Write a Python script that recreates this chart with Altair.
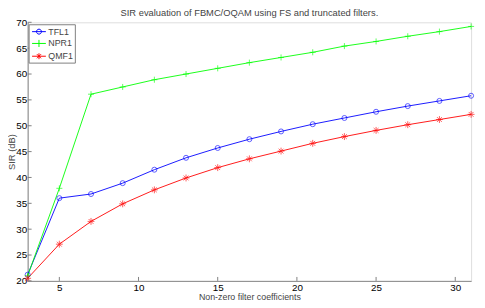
import altair as alt
import pandas as pd

x_vals = [3, 5, 7, 9, 11, 13, 15, 17, 19, 21, 23, 25, 27, 29, 31]
tfl1 = [21.2, 36.0, 36.8, 38.9, 41.5, 43.8, 45.7, 47.4, 48.9, 50.3, 51.5, 52.7, 53.8, 54.8, 55.8]
npr1 = [21.0, 37.9, 56.1, 57.5, 58.9, 60.0, 61.1, 62.2, 63.2, 64.2, 65.4, 66.3, 67.3, 68.2, 69.2]
qmf1 = [20.5, 27.1, 31.5, 34.9, 37.6, 39.9, 41.9, 43.6, 45.1, 46.6, 47.9, 49.1, 50.2, 51.2, 52.2]
series_names = ["TFL1", "NPR1", "QMF1"]
series_colors = ["#0000FF", "#00FF00", "#FF0000"]
x_ticks = [5, 10, 15, 20, 25, 30]
y_ticks = [20, 25, 30, 35, 40, 45, 50, 55, 60, 65, 70]

rows = []
for name, vals in zip(series_names, [tfl1, npr1, qmf1]):
    for xv, yv in zip(x_vals, vals):
        rows.append({"x": xv, "y": yv, "series": name})
df = pd.DataFrame(rows)

W, H = 451, 263
FONT = "Liberation Sans"
AX = "#808080"
TXT = "#444444"

marker_paths = [
    "circle",
    "M-1,0L1,0M0,-1L0,1",
    "M-1,0L1,0M0,-1L0,1M-0.7,-0.7L0.7,0.7M-0.7,0.7L0.7,-0.7",
]
legend_paths = [
    "M-0.67,0L1.67,0M0.08,0A0.42,0.42,0,1,1,0.92,0A0.42,0.42,0,1,1,0.08,0",
    "M-0.67,0L1.67,0M0.5,-0.6L0.5,0.6",
    "M-0.67,0L1.67,0M0.5,-0.5L0.5,0.5M0.15,-0.35L0.85,0.35M0.15,0.35L0.85,-0.35",
]

xs = alt.Scale(domain=[3, 31], nice=False, zero=False)
ys = alt.Scale(domain=[20, 70], nice=False, zero=False)
cs = alt.Scale(domain=series_names, range=series_colors)

xax = alt.Axis(values=x_ticks, title="Non-zero filter coefficients", ticks=False,
               labelPadding=2, titlePadding=0, grid=False, labelOverlap=False,
               titleFontSize=9, titleFontWeight="normal", titleFont=FONT, titleColor=TXT)
yax = alt.Axis(values=y_ticks, title="SIR (dB)", ticks=False, labelPadding=1,
               grid=False, labelOverlap=False, titleX=-13, titleBaseline="alphabetic",
               titleFontSize=9.5, titleFontWeight="normal", titleFont=FONT, titleColor=TXT)

X = alt.X("x:Q", scale=xs, axis=xax)
Y = alt.Y("y:Q", scale=ys, axis=yax)

base = alt.Chart(df)

lines = base.mark_line(strokeWidth=0.9).encode(
    x=X, y=Y,
    color=alt.Color("series:N", scale=cs, legend=None),
    detail="series:N",
)

points = base.mark_point(filled=False, strokeWidth=0.9).encode(
    x=X, y=Y,
    color=alt.Color("series:N", scale=cs, legend=None),
    shape=alt.Shape("series:N", scale=alt.Scale(domain=series_names, range=marker_paths), legend=None),
    size=alt.Size("series:N", scale=alt.Scale(domain=series_names, range=[26, 49, 28]), legend=None),
)

leg = alt.Legend(
    title=None, orient="none", legendX=1, legendY=2,
    symbolSize=144, symbolStrokeWidth=1, symbolOpacity=1,
    labelFont=FONT, labelFontSize=9, labelColor=TXT, labelOffset=6,
    padding=1, rowPadding=0, strokeColor=AX, fillColor="white",
)

legend_layer = base.mark_point(filled=False, opacity=0).encode(
    x=X, y=Y,
    color=alt.Color("series:N", scale=cs, legend=leg, sort=series_names),
    shape=alt.Shape("series:N", scale=alt.Scale(domain=series_names, range=legend_paths),
                    legend=leg, sort=series_names),
)

xt = alt.Chart(pd.DataFrame({"t": x_ticks})).mark_rule(color=AX, strokeWidth=1).encode(
    x=alt.X("t:Q", scale=xs, axis=xax), y=alt.value(H), y2=alt.value(H - 4)
)
yt = alt.Chart(pd.DataFrame({"t": y_ticks})).mark_rule(color=AX, strokeWidth=1).encode(
    y=alt.Y("t:Q", scale=ys, axis=yax), x=alt.value(0), x2=alt.value(4)
)

chart = alt.layer(lines, points, legend_layer, xt, yt).resolve_scale(
    color="independent", shape="independent", size="independent"
).properties(
    width=W, height=H,
    title=alt.TitleParams("SIR evaluation of FBMC/OQAM using FS and truncated filters.",
                          font=FONT, fontSize=9.5, fontWeight="normal", color=TXT,
                          offset=5, anchor="middle", frame="group", dy=5),
    autosize=alt.AutoSizeParams(type="none"),
    padding={"left": 20, "top": 12, "right": 6, "bottom": 24},
).configure_view(stroke=None).configure_axis(
    domainColor=AX, domainWidth=1, labelFont=FONT, labelFontSize=9.5, labelColor=TXT,
    titleFont=FONT, titleFontSize=9.5, titleFontWeight="normal", titleColor=TXT,
).configure_title(fontWeight="normal").configure(background="white")

chart.save("out.html", embed_options={"renderer": "svg", "actions": False})
